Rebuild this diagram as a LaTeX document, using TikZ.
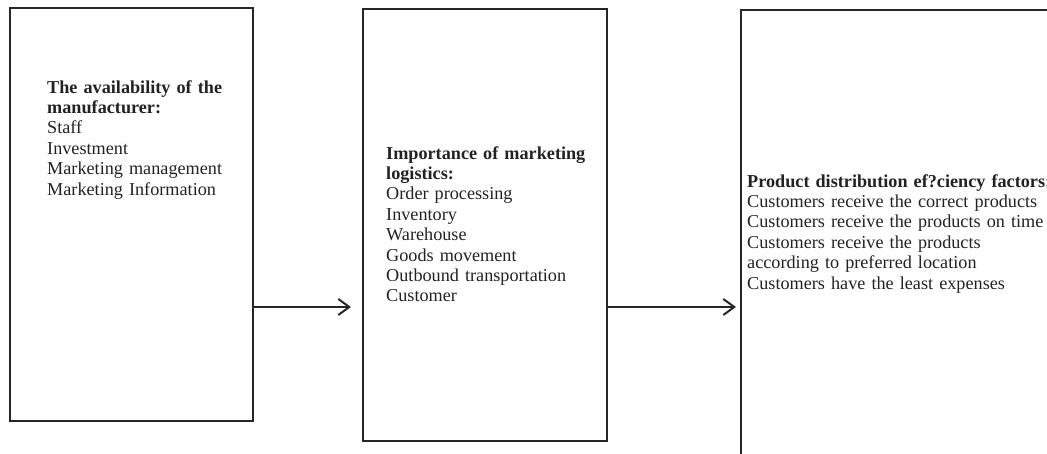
\documentclass[tikz,border=0pt]{standalone}
\usepackage{fontspec}
\setmainfont{Liberation Serif}
\usetikzlibrary{arrows.meta}
\definecolor{ink}{HTML}{262626}
\definecolor{txt}{HTML}{222222}
\begin{document}
\begin{tikzpicture}[x=1pt,y=-1pt,
  panel/.style={draw=ink,line width=1.8pt,anchor=north west,inner sep=0pt,outer sep=0pt},
  body/.style={anchor=base west,inner sep=0pt,text width=320pt,align=left,text=txt,
    font=\fontsize{18.2}{20.4}\selectfont},
  flow/.style={draw=ink,line width=1.8pt,-{Straight Barb[length=11pt,width=16pt,line width=2pt]}}]
\useasboundingbox (0,0) rectangle (1047,453);
\clip (0,0) rectangle (1047,453);
% three panels
\node[panel,minimum width=243pt,minimum height=413pt] (b1) at (10,8) {};
\node[panel,minimum width=244pt,minimum height=432pt] (b2) at (363,9) {};
\node[panel,minimum width=316pt,minimum height=460pt] (b3) at (741,10) {};
% panel texts
\node[body] (t1) at (47,93) {\textbf{The availability of the}\\\textbf{manufacturer:}\\Staff\\Investment\\Marketing management\\Marketing Information};
\node[body] (t2) at (386,159) {\textbf{Importance of marketing}\\\textbf{logistics:}\\Order processing\\Inventory\\Warehouse\\Goods movement\\Outbound transportation\\Customer};
\node[body] (t3) at (747,187) {\textbf{Product distribution ef?ciency factors:}\\Customers receive the correct products\\Customers receive the products on time\\Customers receive the products\\according to preferred location\\Customers have the least expenses};
% connectors
\coordinate (lvl) at (0,307);
\draw[flow,shorten >=12pt] (b1.east |- lvl) -- (b2.west |- lvl);
\draw[flow,shorten >=5pt] (b2.east |- lvl) -- (b3.west |- lvl);
\end{tikzpicture}
\end{document}
